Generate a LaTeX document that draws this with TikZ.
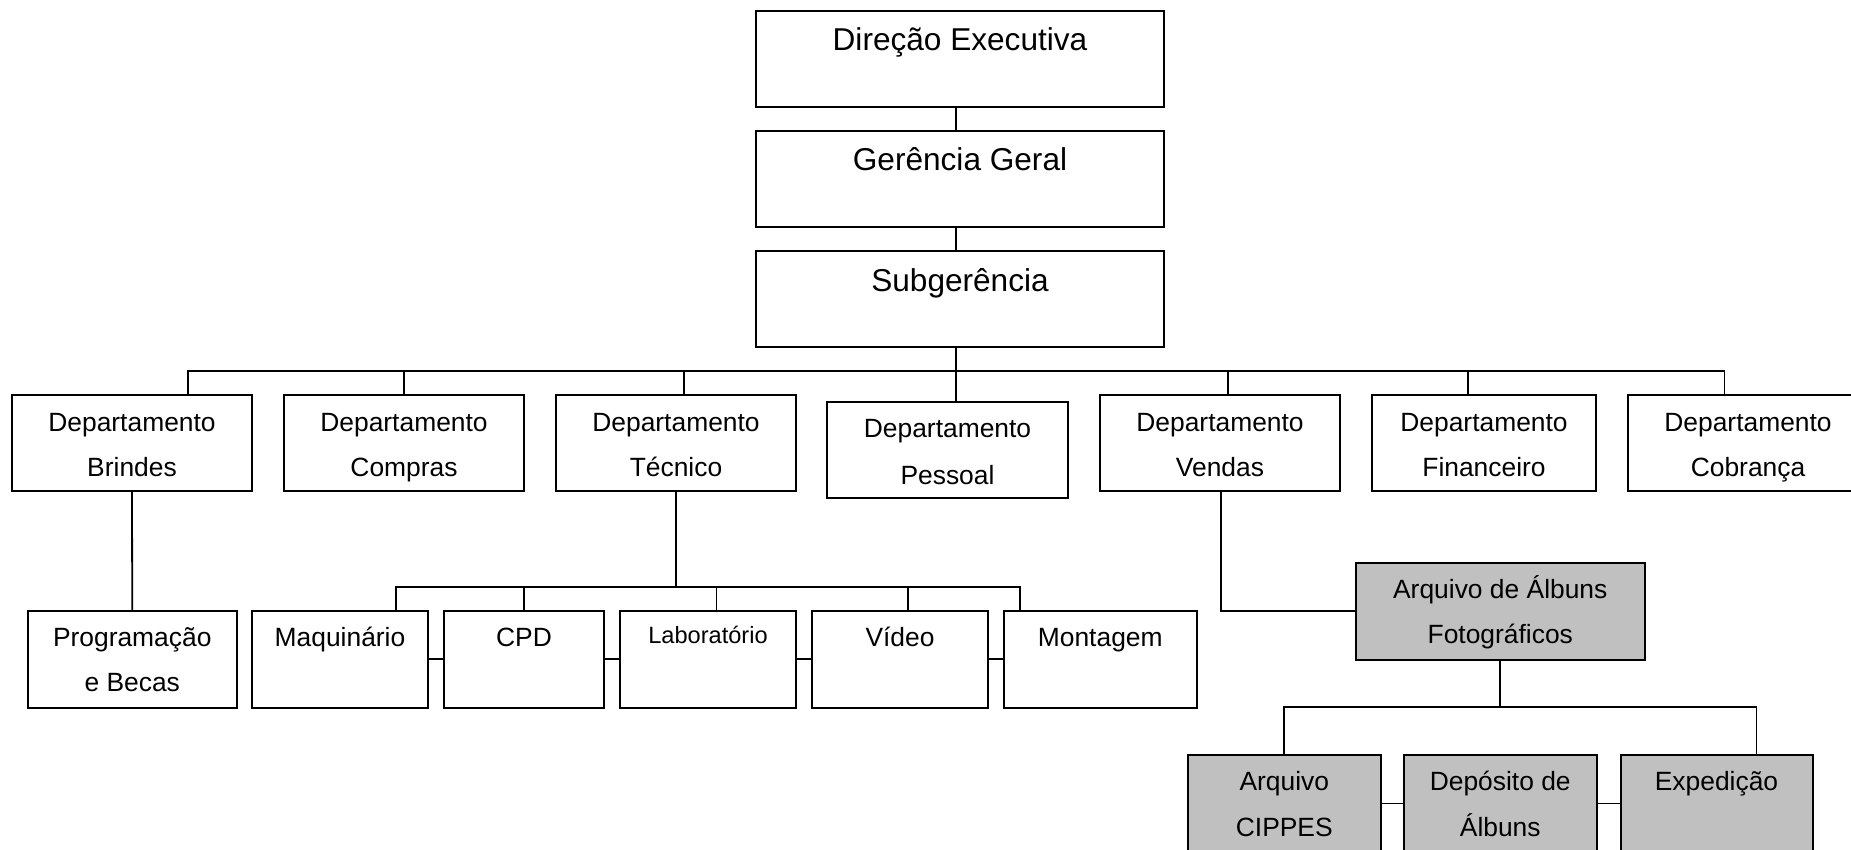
\documentclass[tikz,border=0pt]{standalone}
\usepackage{fontspec}
\setmainfont{Liberation Sans}
\definecolor{graybox}{HTML}{C0C0C0}
\begin{document}
\begin{tikzpicture}[x=1pt,y=-1pt,
  box/.style={draw=black, line width=2pt, fill=white, inner sep=0pt, outer sep=0pt, anchor=north west},
  gbox/.style={box, fill=graybox},
  conn/.style={draw=black, line width=1.8pt},
  big/.style={font=\fontsize{31.6}{38}\selectfont, anchor=base, inner sep=0pt},
  lbl/.style={font=\fontsize{26.4}{32}\selectfont, anchor=base, inner sep=0pt},
  small/.style={font=\fontsize{23.6}{28}\selectfont, anchor=base, inner sep=0pt}]
\useasboundingbox (0,0) rectangle (1851,850);
% top chain
\node[box, minimum width=408pt, minimum height=96pt] (dir) at (756,11) {};
\node[box, minimum width=408pt, minimum height=96pt] (ger) at (756,131) {};
\node[box, minimum width=408pt, minimum height=96pt] (sub) at (756,251) {};
\node[big] (dirT) at (960,51) {Direção Executiva};
\node[big] (gerT) at (960,171) {Gerência Geral};
\node[big] (subT) at (960,291) {Subgerência};
% departments
\node[box, minimum width=240pt, minimum height=96pt] (brindes) at (12,395) {};
\node[box, minimum width=240pt, minimum height=96pt] (compras) at (284,395) {};
\node[box, minimum width=240pt, minimum height=96pt] (tecnico) at (556,395) {};
\node[box, minimum width=241pt, minimum height=96pt] (pessoal) at (827,402) {};
\node[box, minimum width=240pt, minimum height=96pt] (vendas) at (1100,395) {};
\node[box, minimum width=224pt, minimum height=96pt] (financeiro) at (1372,395) {};
\node[box, minimum width=240pt, minimum height=96pt] (cobranca) at (1628,395) {};
\node[lbl] (brindesA) at (132,431) {Departamento};
\node[lbl] (brindesB) at (132,476) {Brindes};
\node[lbl] (comprasA) at (404,431) {Departamento};
\node[lbl] (comprasB) at (404,476) {Compras};
\node[lbl] (tecnicoA) at (676,431) {Departamento};
\node[lbl] (tecnicoB) at (676,476) {Técnico};
\node[lbl] (pessoalA) at (947.5,437.5) {Departamento};
\node[lbl] (pessoalB) at (947.5,484) {Pessoal};
\node[lbl] (vendasA) at (1220,431) {Departamento};
\node[lbl] (vendasB) at (1220,476) {Vendas};
\node[lbl] (financeiroA) at (1484,431) {Departamento};
\node[lbl] (financeiroB) at (1484,476) {Financeiro};
\node[lbl] (cobrancaA) at (1748,431) {Departamento};
\node[lbl] (cobrancaB) at (1748,476) {Cobrança};
% sub-units
\node[box, minimum width=208.5pt, minimum height=96.5pt] (prog) at (28,611) {};
\node[box, minimum width=176pt, minimum height=96.5pt] (maq) at (252,611) {};
\node[box, minimum width=160pt, minimum height=96.5pt] (cpd) at (444,611) {};
\node[box, minimum width=176pt, minimum height=96.5pt] (lab) at (620,611) {};
\node[box, minimum width=176pt, minimum height=96.5pt] (video) at (812,611) {};
\node[box, minimum width=192.5pt, minimum height=96.5pt] (montagem) at (1004,611) {};
\node[lbl] (progA) at (132.25,646) {Programação};
\node[lbl] (progB) at (132.25,691.7) {e Becas};
\node[lbl] (maqT) at (340,646) {Maquinário};
\node[lbl] (cpdT) at (524,646) {CPD};
\node[small] (labT) at (708,643) {Laboratório};
\node[lbl] (videoT) at (900,646) {Vídeo};
\node[lbl] (montagemT) at (1100.25,646) {Montagem};
% albums
\node[gbox, minimum width=288.5pt, minimum height=96.5pt] (arqalb) at (1356,563) {};
\node[lbl] (arqalbA) at (1500.25,598.3) {Arquivo de Álbuns};
\node[lbl] (arqalbB) at (1500.25,643.3) {Fotográficos};
\node[gbox, minimum width=192.5pt, minimum height=97pt] (cippes) at (1188,755) {};
\node[gbox, minimum width=192.5pt, minimum height=97pt] (deposito) at (1404,755) {};
\node[gbox, minimum width=192pt, minimum height=97pt] (expedicao) at (1620.5,755) {};
\node[lbl] (cippesA) at (1284.25,790) {Arquivo};
\node[lbl] (cippesB) at (1284.25,836.7) {CIPPES};
\node[lbl] (depositoA) at (1500.25,790) {Depósito de};
\node[lbl] (depositoB) at (1500.25,836.7) {Álbuns};
\node[lbl] (expedicaoT) at (1716.5,790) {Expedição};
% connectors: top chain
\draw[conn] ([xshift=-4pt]dir.south) -- ([xshift=-4pt]ger.north);
\draw[conn] ([xshift=-4pt]ger.south) -- ([xshift=-4pt]sub.north);
\draw[conn] ([xshift=-4pt]sub.south) -- ([xshift=8.5pt]pessoal.north);
\coordinate (bus) at (956,371);
\draw[conn] ([xshift=56pt]brindes.north) |- (bus);
\draw[conn] (compras.north) |- (bus);
\draw[conn] ([xshift=8pt]tecnico.north) |- (bus);
\draw[conn] ([xshift=8pt]vendas.north) |- (bus);
\draw[conn] ([xshift=-16pt]financeiro.north) |- (bus);
\draw[conn] ([xshift=-23.5pt]cobranca.north) |- (bus);
% brindes
\draw[conn] (brindes.south) -- (prog.north);
% tecnico
\coordinate (tbus) at (676,587);
\draw[conn] (tecnico.south) -- (tbus);
\draw[conn] ([xshift=56pt]maq.north) |- (tbus);
\draw[conn] (cpd.north) |- (tbus);
\draw[conn] ([xshift=8.5pt]lab.north) |- (tbus);
\draw[conn] ([xshift=8pt]video.north) |- (tbus);
\draw[conn] ([xshift=-80.25pt]montagem.north) |- (tbus);
\draw[conn] (maq.east) -- (cpd.west);
\draw[conn] (cpd.east) -- (lab.west);
\draw[conn] (lab.east) -- (video.west);
\draw[conn] (video.east) -- (montagem.west);
% vendas
\draw[conn] ([xshift=1pt]vendas.south) |- (arqalb.west);
\coordinate (abus) at (1500.25,707);
\draw[conn] (arqalb.south) -- (abus);
\draw[conn] (cippes.north) |- (abus);
\draw[conn] ([xshift=40pt]expedicao.north) |- (abus);
\draw[conn] (cippes.east) -- (deposito.west);
\draw[conn] (deposito.east) -- (expedicao.west);
\end{tikzpicture}
\end{document}
